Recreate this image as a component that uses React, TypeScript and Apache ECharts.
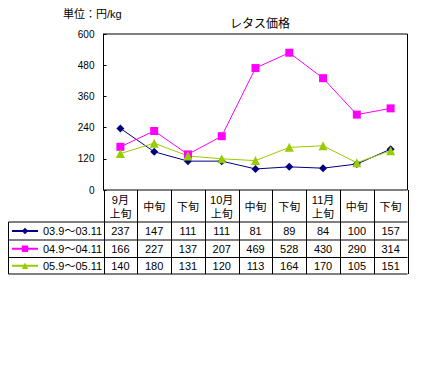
import React, { useEffect, useRef } from "react";
import * as echarts from "echarts";

const categories = ["9月\n上旬", "中旬", "下旬", "10月\n上旬", "中旬", "下旬", "11月\n上旬", "中旬", "下旬"];
const seriesNames = ["03.9～03.11", "04.9～04.11", "05.9～05.11"];
const values03 = [237, 147, 111, 111, 81, 89, 84, 100, 157];
const values04 = [166, 227, 137, 207, 469, 528, 430, 290, 314];
const values05 = [140, 180, 131, 120, 113, 164, 170, 105, 151];
const yMin = 0;
const yMax = 600;
const yInterval = 120;
const titleText = "レタス価格";
const unitText = "単位：円/kg";

const FONT = '"Liberation Sans", "Noto Sans CJK JP", sans-serif';

export default function App() {
  const ref = useRef<HTMLDivElement>(null);
  useEffect(() => {
    if (!ref.current) return;
    const chart = echarts.init(ref.current, undefined, { renderer: "svg" });
    const gl = 103.5, gt = 34, gw = 304, gh = 156;
    const gb = gt + gh; // 190
    const colW = gw / categories.length;
    const rowLines = [222, 240, 257.5, 274];
    const tableLeft = 8.5;
    const allSeries = [values03, values04, values05];
    const colors = ["#000080", "#FF00FF", "#99CC00"];
    const symbols = ["diamond", "rect", "triangle"];
    const symbolSizes = [8, 8, 9];

    const graphics: any[] = [];
    rowLines.forEach((y) => {
      graphics.push({ type: "line", shape: { x1: tableLeft, y1: y, x2: gl + gw, y2: y }, style: { stroke: "#000", lineWidth: 1 }, silent: true });
    });
    graphics.push({ type: "line", shape: { x1: tableLeft, y1: rowLines[0], x2: tableLeft, y2: rowLines[3] }, style: { stroke: "#000", lineWidth: 1 } });
    for (let i = 0; i <= categories.length; i++) {
      const x = Math.round(gl + i * colW) + 0.5;
      graphics.push({ type: "line", shape: { x1: x, y1: gb, x2: x, y2: rowLines[3] }, style: { stroke: "#000", lineWidth: 1 } });
    }
    categories.forEach((c, i) => {
      graphics.push({
        type: "text",
        x: gl + (i + 0.5) * colW,
        y: (gb + rowLines[0]) / 2 + 1,
        style: { text: c, fill: "#000", font: `11px ${FONT}`, align: "center", verticalAlign: "middle", lineHeight: 14 },
      });
    });
    allSeries.forEach((vals, r) => {
      const cy = (rowLines[r] + rowLines[r + 1]) / 2;
      vals.forEach((v, i) => {
        graphics.push({
          type: "text",
          x: gl + (i + 0.5) * colW,
          y: cy,
          style: { text: String(v), fill: "#000", font: `11px ${FONT}`, align: "center", verticalAlign: "middle" },
        });
      });
    });
    graphics.push({ type: "text", x: 63, y: 14, style: { text: unitText, fill: "#000", font: `11px ${FONT}`, align: "left", verticalAlign: "middle" } });
    graphics.push({ type: "text", x: 260, y: 24, style: { text: titleText, fill: "#000", font: `12px ${FONT}`, align: "center", verticalAlign: "middle" } });

    const legends = seriesNames.map((name, r) => ({
      orient: "horizontal",
      left: 11,
      top: (rowLines[r] + rowLines[r + 1]) / 2 - 6,
      padding: 0,
      itemWidth: 26,
      itemHeight: 8,
      itemGap: 0,
      textStyle: { fontSize: 11, fontFamily: FONT, color: "#000", lineHeight: 12 },
      data: [name],
    }));

    chart.setOption({
      animation: false,
      grid: { left: gl, top: gt, width: gw, height: gh, show: true, borderColor: "#000", borderWidth: 1, backgroundColor: "transparent" },
      legend: legends,
      xAxis: {
        type: "category",
        data: categories,
        boundaryGap: true,
        axisLine: { show: false },
        axisTick: { show: false },
        axisLabel: { show: false },
        splitLine: { show: false },
      },
      yAxis: {
        type: "value",
        min: yMin,
        max: yMax,
        interval: yInterval,
        axisLine: { show: true, lineStyle: { color: "#000" } },
        axisTick: { show: true, inside: true, length: 3, lineStyle: { color: "#000" } },
        axisLabel: { color: "#000", fontSize: 10, fontFamily: FONT, margin: 9 },
        splitLine: { show: false },
      },
      series: allSeries.map((vals, i) => ({
        name: seriesNames[i],
        type: "line",
        data: vals,
        symbol: symbols[i],
        symbolSize: symbolSizes[i],
        showSymbol: true,
        lineStyle: { color: colors[i], width: 1 },
        itemStyle: { color: colors[i], borderWidth: 0 },
      })),
      graphic: graphics,
    });
    return () => chart.dispose();
  }, []);
  return <div ref={ref} style={{ position: "fixed", left: 0, top: 0, width: 429, height: 375, background: "#fff" }} />;
}
